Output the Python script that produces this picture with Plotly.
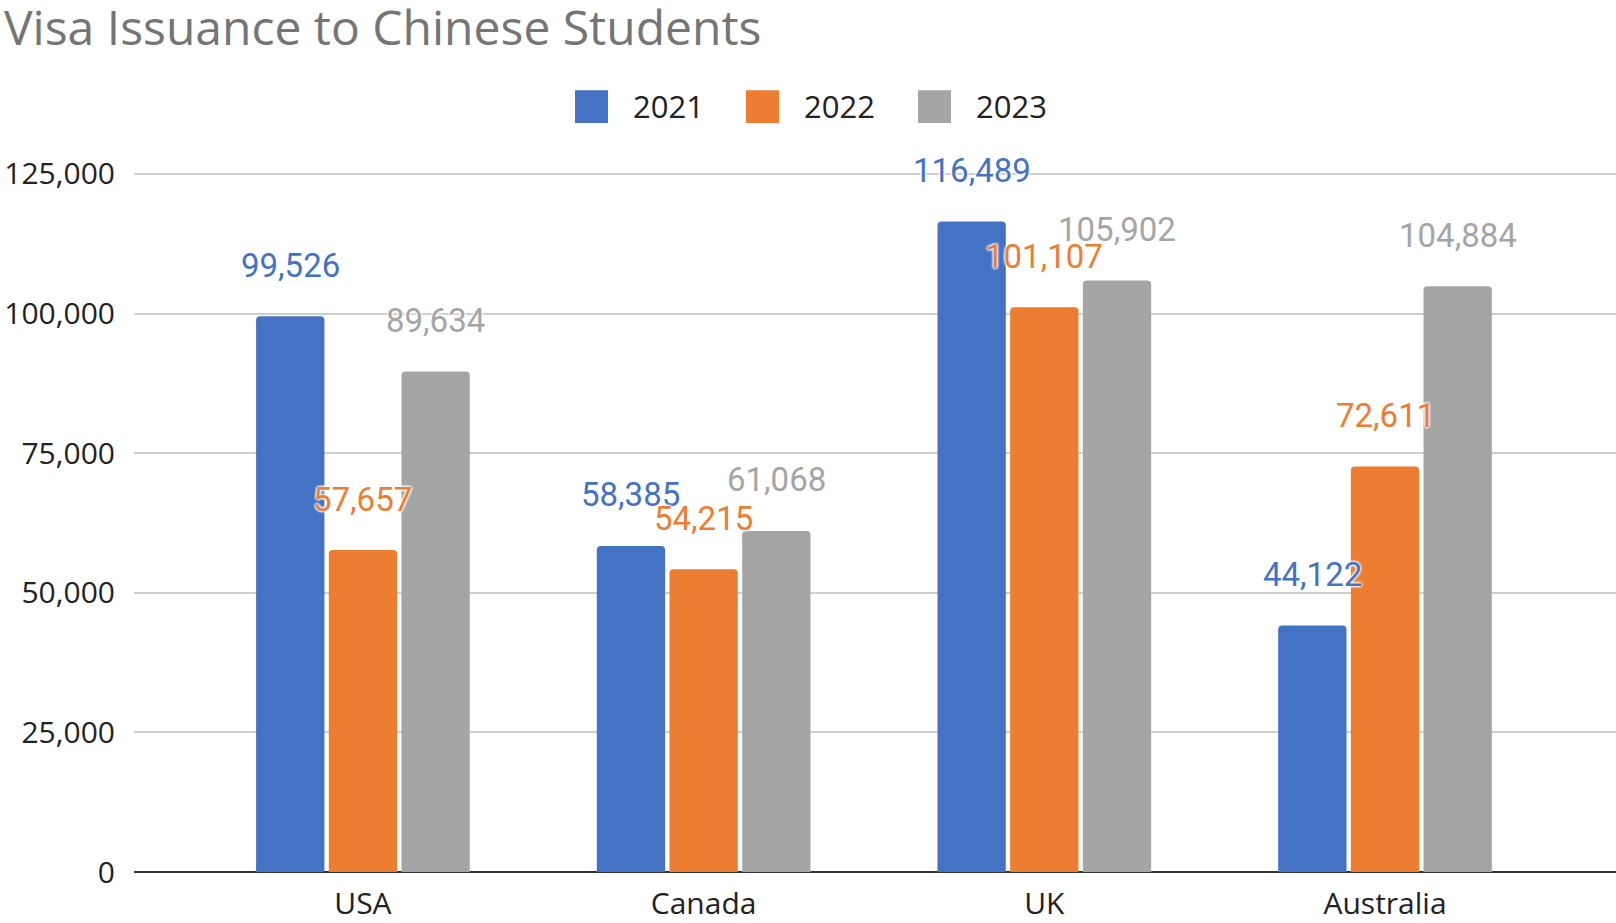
import plotly.graph_objects as go

# Chart data
countries = ["USA", "Canada", "UK", "Australia"]
years = ["2021", "2022", "2023"]
visas_2021 = [99526, 58385, 116489, 44122]
visas_2022 = [57657, 54215, 101107, 72611]
visas_2023 = [89634, 61068, 105902, 104884]
y_ticks = [0, 25000, 50000, 75000, 100000, 125000]

series = [visas_2021, visas_2022, visas_2023]
colors = ["#4472C4", "#ED7D31", "#A5A5A5"]

W, H = 1616, 923
M_L, M_R, M_T, M_B = 134, 0, 146, 48
X_RANGE = [-0.672, 3.678]
Y_RANGE = [0, 130000]
BARGAP, GROUPGAP = 0.36, 0.06

plot_w = W - M_L - M_R
plot_h = H - M_T - M_B
px_per_cat = plot_w / (X_RANGE[1] - X_RANGE[0])
slot = (1 - BARGAP) / len(series)  # width of one bar slot in category units

fig = go.Figure()
for name, vals, col in zip(years, series, colors):
    fig.add_trace(go.Bar(
        x=countries, y=vals, name=name,
        marker=dict(color=col, line=dict(width=0)),
        showlegend=False,
    ))

# value labels above each bar, with a white halo
halo = "0 0 3px #fff, 0 0 3px #fff, 0 0 3px #fff, 0 0 2px #fff"
for i, (vals, col) in enumerate(zip(series, colors)):
    dx = (i - (len(series) - 1) / 2) * slot * px_per_cat
    for c, v in zip(countries, vals):
        fig.add_annotation(
            x=c, y=v, xref="x", yref="y",
            text=f"{v:,}", showarrow=False,
            xshift=dx, yshift=51, yanchor="middle",
            font=dict(family="Roboto", size=33, color=col, shadow=halo),
        )

# legend: coloured squares with year labels across the top
def to_paper(px, py):
    return (px - M_L) / plot_w, (H - M_B - py) / plot_h

legend_x = [575, 746, 918]
sq = 33
for x0, name, col in zip(legend_x, years, colors):
    ax0, ay0 = to_paper(x0, 90 + sq)
    ax1, ay1 = to_paper(x0 + sq, 90)
    fig.add_shape(type="rect", xref="paper", yref="paper",
                  x0=ax0, x1=ax1, y0=ay0, y1=ay1,
                  fillcolor=col, line=dict(width=0), layer="above")
    tx, ty = to_paper(x0 + sq + 23, 106)
    fig.add_annotation(x=tx, y=ty, xref="paper", yref="paper",
                       text=name, showarrow=False, xanchor="left", yanchor="middle",
                       font=dict(family="Open Sans", size=31, color="#222222"))

fig.update_layout(
    width=W, height=H,
    margin=dict(l=M_L, r=M_R, t=M_T, b=M_B),
    paper_bgcolor="white", plot_bgcolor="white",
    barmode="group", bargap=BARGAP, bargroupgap=GROUPGAP,
    barcornerradius=4,
    title=dict(text="Visa Issuance to Chinese Students",
               x=4 / W, xanchor="left", xref="container",
               y=1 - 28 / H, yanchor="middle", yref="container",
               font=dict(family="Open Sans", size=48, color="#757575")),
    font=dict(family="Open Sans", color="#222222"),
    xaxis=dict(range=X_RANGE, showgrid=False, showline=False, ticks="",
               tickfont=dict(family="Open Sans", size=30, color="#222222"),
               ticklabelstandoff=11),
    yaxis=dict(range=Y_RANGE, tickvals=y_ticks, tickformat=",",
               showgrid=True, gridcolor="#cfcfcf", gridwidth=2,
               zeroline=True, zerolinecolor="#333333", zerolinewidth=2,
               showline=False, ticks="",
               tickfont=dict(family="Open Sans", size=30, color="#222222"),
               ticklabelstandoff=18),
)

fig.write_html("out.html")
